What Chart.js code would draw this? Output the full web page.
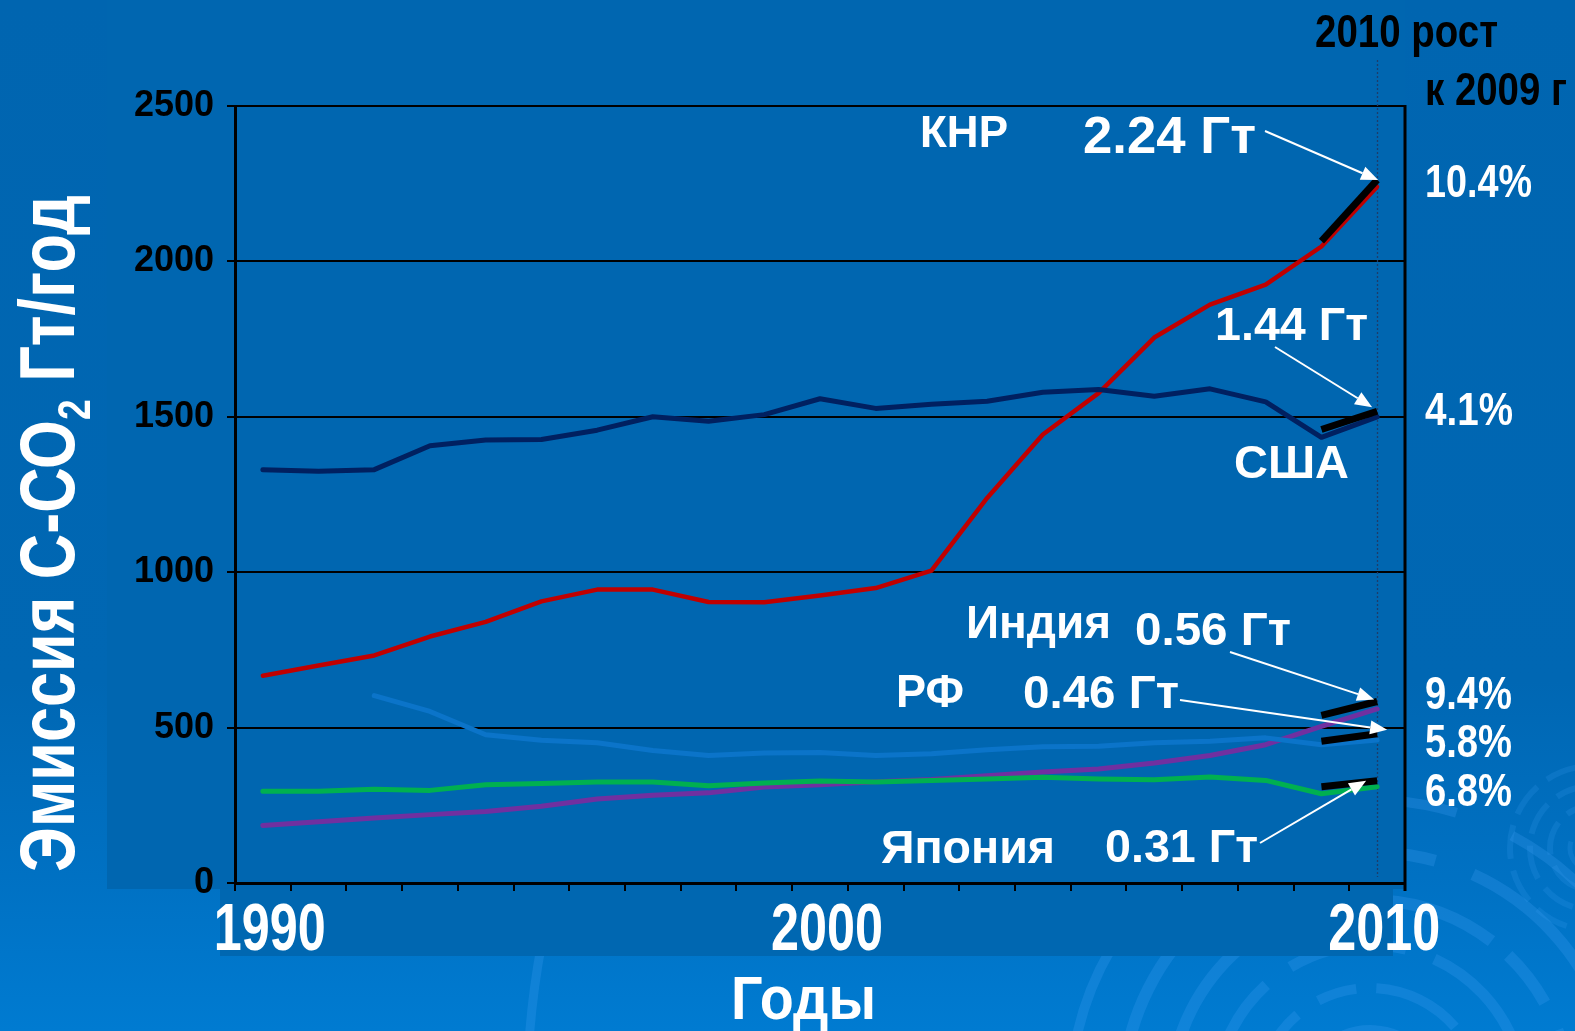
<!DOCTYPE html>
<html lang="ru">
<head>
<meta charset="utf-8">
<title>Эмиссия С-СО2</title>
<script src="https://cdn.jsdelivr.net/npm/chart.js@4.4.1/dist/chart.umd.min.js"></script>
<style>
  html, body { margin: 0; padding: 0; background: #0066b0; }
  #wrap { width: 1575px; height: 1031px; position: relative; }
  canvas { display: block; }
</style>
</head>
<body>
<div id="wrap"><canvas id="c" width="1575" height="1031"></canvas></div>
<script>
// ---- data (Мт C-CO2 per year) ----
const years = ['1990','1991','1992','1993','1994','1995','1996','1997','1998','1999','2000',
               '2001','2002','2003','2004','2005','2006','2007','2008','2009','2010'];
const shownYears = ['1990', '2000', '2010'];
const yTicks = [0, 500, 1000, 1500, 2000, 2500];

const chinaCO2  = [667, 700, 732, 793, 840, 906, 944, 944, 904, 903, 925, 949, 1005, 1239, 1443, 1576, 1755, 1861, 1925, 2048, 2240];
const usaCO2    = [1330, 1325, 1330, 1407, 1425, 1427, 1457, 1500, 1486, 1507, 1558, 1527, 1540, 1550, 1579, 1588, 1566, 1590, 1548, 1434, 1500];
const russiaCO2 = [null, null, 603, 552, 477, 459, 451, 426, 410, 418, 420, 410, 416, 429, 438, 440, 451, 456, 467, 445, 460];
const indiaCO2  = [185, 197, 209, 220, 230, 247, 270, 282, 290, 309, 316, 326, 333, 345, 357, 367, 386, 410, 445, 504, 560];
const japanCO2  = [295, 295, 302, 298, 316, 320, 325, 325, 313, 322, 328, 325, 330, 335, 340, 335, 332, 341, 330, 287, 310];

// 2009 -> 2010 growth markers
const growthChina  = [2065, 2262];
const growthUSA    = [1459, 1518];
const growthIndia  = [539, 584];
const growthRussia = [456, 480];
const growthJapan  = [310, 329];

const countryNames = ['КНР', 'США', 'Индия', 'РФ', 'Япония'];
const valueTexts   = ['2.24 Гт', '1.44 Гт', '0.56 Гт', '0.46 Гт', '0.31 Гт'];
const growthTexts  = ['10.4%', '4.1%', '9.4%', '5.8%', '6.8%'];

// ---- fonts ----
const NARROW = "'Liberation Sans Narrow', 'Arial Narrow', 'Liberation Sans', Arial, sans-serif";
const SANS = "'Liberation Sans', Arial, Helvetica, sans-serif";

// put a two-point growth marker at the last two years
const lastTwo = pair => years.map((y, i) =>
  i === years.length - 2 ? pair[0] : (i === years.length - 1 ? pair[1] : null));

// bold text squeezed/stretched horizontally to a given width
function fitText(ctx, text, x, y, size, family, color, width, align) {
  ctx.save();
  ctx.font = 'bold ' + size + 'px ' + family;
  ctx.fillStyle = color;
  ctx.textAlign = 'left';
  ctx.textBaseline = 'alphabetic';
  const w = ctx.measureText(text).width;
  const s = width ? width / w : 1;
  const left = align === 'center' ? x - (w * s) / 2 : x;
  ctx.translate(left, y);
  ctx.scale(s, 1);
  ctx.fillText(text, 0, 0);
  ctx.restore();
}

// ---- slide backdrop ----
const backdrop = {
  id: 'backdrop',
  beforeDraw(chart) {
    const ctx = chart.ctx, W = chart.width, H = chart.height;
    ctx.save();
    const g = ctx.createLinearGradient(0, 0, 0, H);
    g.addColorStop(0, '#0065b0');
    g.addColorStop(0.66, '#0067b3');
    g.addColorStop(0.85, '#0071c3');
    g.addColorStop(1, '#007bd1');
    ctx.fillStyle = g;
    ctx.fillRect(0, 0, W, H);

    // decorative rings in the lower right corner
    ctx.strokeStyle = 'rgba(60,160,245,0.26)';
    ctx.lineCap = 'butt';
    const rings = [[70, 10, [60, 18]], [112, 10, [90, 25, 40, 20]], [155, 11, [120, 30]],
                   [200, 12, [160, 22, 60, 30]], [248, 12, [200, 40]], [300, 10, [140, 60]]];
    rings.forEach(([r, w, dash]) => {
      ctx.lineWidth = w;
      ctx.setLineDash(dash);
      ctx.beginPath();
      ctx.arc(1370, 1100, r, Math.PI * 1.02, Math.PI * 1.98);
      ctx.stroke();
    });
    ctx.strokeStyle = 'rgba(60,160,245,0.18)';
    [[22, 5], [42, 6], [62, 6], [82, 6]].forEach(([r, w]) => {
      ctx.lineWidth = w;
      ctx.setLineDash([34, 12]);
      ctx.beginPath();
      ctx.arc(1592, 848, r, Math.PI * 0.6, Math.PI * 1.45);
      ctx.stroke();
    });
    ctx.strokeStyle = 'rgba(60,160,245,0.26)';
    ctx.setLineDash([]);
    ctx.lineWidth = 9;
    ctx.beginPath();
    ctx.arc(1370, 1100, 843, Math.PI * 1.015, Math.PI * 1.06);
    ctx.stroke();

    // chart panel and label band
    ctx.fillStyle = '#0066b0';
    ctx.fillRect(107, 0, 1405 - 107, 889);
    ctx.fillStyle = '#0067b1';
    ctx.fillRect(220, 889, 1393 - 220, 67);
    ctx.restore();
  },
  beforeDatasetsDraw(chart) {
    // dotted reference line through the last year
    const ctx = chart.ctx, xs = chart.scales.x;
    const x = Math.round(xs.getPixelForValue(years.length - 1)) + 0.5;
    ctx.save();
    ctx.strokeStyle = '#1d3d6b';
    ctx.lineWidth = 1.3;
    ctx.setLineDash([2, 2]);
    ctx.beginPath();
    ctx.moveTo(x, 60);
    ctx.lineTo(x, 877);
    ctx.stroke();
    ctx.restore();
  }
};

// ---- annotations: frame, arrows and texts ----
const annotations = {
  id: 'annotations',
  afterDatasetsDraw(chart) {
    const ctx = chart.ctx, ca = chart.chartArea;
    const xs = chart.scales.x, ys = chart.scales.y;
    ctx.save();
    // right frame edge
    ctx.strokeStyle = '#000';
    ctx.lineWidth = 3;
    ctx.beginPath();
    ctx.moveTo(ca.right, ca.top - 1);
    ctx.lineTo(ca.right, ca.bottom + 8);
    ctx.stroke();

    // arrows from the value labels to the 2010 growth markers
    const xEnd = xs.getPixelForValue(years.length - 1);
    const arrows = [
      { from: [1265, 131], to: growthChina,  dx: 1,   dy: 0 },
      { from: [1275, 347], to: growthUSA,    dx: -5,  dy: -4 },
      { from: [1230, 652], to: growthIndia,  dx: -3,  dy: -2 },
      { from: [1180, 700], to: growthRussia, dx: 10,  dy: -4 },
      { from: [1260, 843], to: growthJapan,  dx: -11, dy: 0 }
    ];
    ctx.strokeStyle = '#fff';
    ctx.fillStyle = '#fff';
    ctx.lineWidth = 2;
    arrows.forEach(a => {
      const tx = xEnd + a.dx, ty = ys.getPixelForValue(a.to[1]) + a.dy;
      const [fx, fy] = a.from;
      const ang = Math.atan2(ty - fy, tx - fx);
      const len = 17, half = 7;
      const bx = tx - len * Math.cos(ang), by = ty - len * Math.sin(ang);
      ctx.beginPath();
      ctx.moveTo(fx, fy);
      ctx.lineTo(bx, by);
      ctx.stroke();
      ctx.beginPath();
      ctx.moveTo(tx, ty);
      ctx.lineTo(bx + half * Math.sin(ang), by - half * Math.cos(ang));
      ctx.lineTo(bx - half * Math.sin(ang), by + half * Math.cos(ang));
      ctx.closePath();
      ctx.fill();
    });
    ctx.restore();
  },
  afterDraw(chart) {
    const ctx = chart.ctx, xs = chart.scales.x;

    // year labels under the axis, placed by the category scale
    shownYears.forEach(lbl => {
      const cx = xs.getPixelForValue(years.indexOf(lbl)) + 7;
      fitText(ctx, lbl, cx, 950, 67, SANS, '#fff', 112, 'center');
    });

    // country names and 2010 values
    const labels = [
      [countryNames[0], 920, 147, 44, 88],
      [valueTexts[0], 1083, 153, 52, 173],
      [valueTexts[1], 1215, 340, 46, 153],
      [countryNames[1], 1234, 478, 47, 115],
      [countryNames[2], 966, 638, 46, 145],
      [valueTexts[2], 1135, 645, 47, 156],
      [countryNames[3], 896, 707, 46, 68],
      [valueTexts[3], 1023, 708, 47, 156],
      [countryNames[4], 881, 863, 46, 174],
      [valueTexts[4], 1105, 862, 47, 153]
    ];
    labels.forEach(([t, x, y, s, w]) => fitText(ctx, t, x, y, s, SANS, '#fff', w));

    // growth column
    fitText(ctx, '2010 рост', 1315, 47, 46, SANS, '#000', 183);
    fitText(ctx, 'к 2009 г', 1425, 105, 46, SANS, '#000', 142);
    const growthPos = [[197, 107], [425, 88], [709, 87], [757, 87], [806, 87]];
    growthTexts.forEach((t, i) => fitText(ctx, t, 1425, growthPos[i][0], 46, SANS, '#fff', growthPos[i][1]));

    // axis titles
    fitText(ctx, 'Годы', 731, 1019, 62, SANS, '#fff', 145);

    ctx.save();
    ctx.translate(74, 872);
    ctx.rotate(-Math.PI / 2);
    ctx.fillStyle = '#fff';
    ctx.textBaseline = 'alphabetic';
    const main = 'bold 78px ' + SANS, sub = 'bold 46px ' + SANS;
    const a = 'Эмиссия С-СО', b = '2', c = ' Гт/год';
    ctx.font = main; const wa = ctx.measureText(a).width, wc = ctx.measureText(c).width;
    ctx.font = sub;  const wb = ctx.measureText(b).width;
    const s = 677 / (wa + wb + wc);
    ctx.scale(s, 1);
    ctx.font = main; ctx.fillText(a, 0, 0);
    ctx.font = sub;  ctx.fillText(b, wa, 16);
    ctx.font = main; ctx.fillText(c, wa + wb, 0);
    ctx.restore();
  }
};

const lineStyle = (label, data, color, width) => ({
  label, data, borderColor: color, backgroundColor: color, borderWidth: width,
  pointRadius: 0, pointHoverRadius: 0, tension: 0, fill: false, order: 1,
  borderJoinStyle: 'round', borderCapStyle: 'round'
});
const markerStyle = (label, pair) => ({
  label, data: lastTwo(pair), borderColor: '#000', backgroundColor: '#000', borderWidth: 7,
  pointRadius: 0, pointHoverRadius: 0, tension: 0, fill: false, order: 0,
  borderCapStyle: 'butt', spanGaps: false
});

new Chart(document.getElementById('c'), {
  type: 'line',
  data: {
    labels: years,
    datasets: [
      lineStyle(countryNames[3], russiaCO2, '#0b74c9', 5),
      lineStyle(countryNames[4], japanCO2, '#00b050', 5),
      lineStyle(countryNames[2], indiaCO2, '#7030a0', 5),
      lineStyle(countryNames[1], usaCO2, '#002060', 5),
      lineStyle(countryNames[0], chinaCO2, '#c00000', 4.5),
      markerStyle('рост ' + countryNames[0], growthChina),
      markerStyle('рост ' + countryNames[1], growthUSA),
      markerStyle('рост ' + countryNames[2], growthIndia),
      markerStyle('рост ' + countryNames[3], growthRussia),
      markerStyle('рост ' + countryNames[4], growthJapan)
    ]
  },
  options: {
    responsive: false,
    animation: false,
    devicePixelRatio: 1,
    layout: { padding: { left: 0, right: 170, top: 106, bottom: 0 } },
    plugins: { legend: { display: false }, tooltip: { enabled: false } },
    scales: {
      x: {
        type: 'category',
        offset: true,
        afterFit(scale) { scale.height = 148; },
        grid: { offset: true, drawOnChartArea: false, drawTicks: true, tickLength: 8, color: '#000', lineWidth: 2 },
        border: { color: '#000', width: 3 },
        ticks: { display: false, autoSkip: false, maxRotation: 0, minRotation: 0 }
      },
      y: {
        min: yTicks[0], max: yTicks[yTicks.length - 1],
        afterFit(scale) { scale.width = 235; },
        afterBuildTicks(scale) { scale.ticks = yTicks.map(v => ({ value: v })); },
        grid: { color: '#000', lineWidth: 2, drawTicks: true, tickLength: 8 },
        border: { color: '#000', width: 3 },
        ticks: {
          color: '#000', padding: 13,
          font: { family: SANS, size: 36, weight: 'bold' },
          callback: v => String(v)
        }
      }
    }
  },
  plugins: [backdrop, annotations]
});
</script>
</body>
</html>
